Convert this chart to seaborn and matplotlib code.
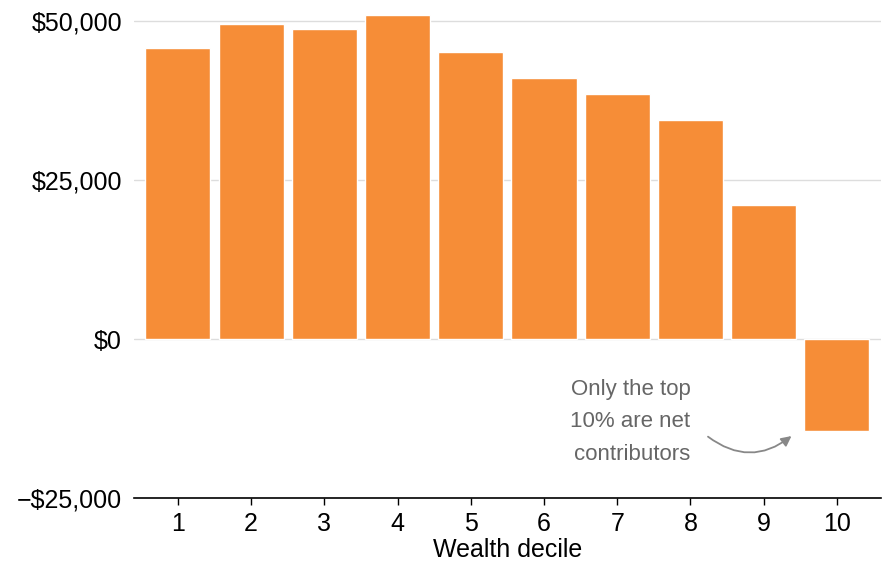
import pandas as pd
import matplotlib
matplotlib.use("Agg")
import matplotlib.pyplot as plt
import seaborn as sns

# values
deciles = ["1", "2", "3", "4", "5", "6", "7", "8", "9", "10"]
net_value = [45800, 49600, 48700, 51000, 45200, 41050, 38550, 34450, 21100, -14500]
y_ticks = [-25000, 0, 25000, 50000]
y_labels = ["\u2212$25,000", "$0", "$25,000", "$50,000"]

df = pd.DataFrame({"decile": deciles, "value": net_value})

sns.set_style("white")
plt.rcParams["font.family"] = ["Liberation Sans", "DejaVu Sans"]

fig = plt.figure(figsize=(8.87, 5.63), dpi=100)
ax = fig.add_axes([0.151, 0.115, 0.842, 0.870])

sns.barplot(data=df, x="decile", y="value", color="#F68D37", saturation=1,
            width=0.89, ax=ax, zorder=3)

ax.set_xlim(-0.6, 9.6)
ax.set_ylim(-25000, 52000)
ax.set_yticks(y_ticks)
ax.set_yticklabels(y_labels)
ax.grid(axis="y", color="#dddddd", linewidth=1, zorder=0)
ax.set_axisbelow(True)

for s in ["top", "right", "left"]:
    ax.spines[s].set_visible(False)
ax.spines["bottom"].set_color("black")
ax.spines["bottom"].set_linewidth(1.2)

ax.tick_params(axis="y", length=0, pad=8.5, labelsize=18, labelcolor="black")
ax.tick_params(axis="x", length=5, width=1, color="black", pad=5, labelsize=18,
               labelcolor="black", direction="out", bottom=True)

ax.set_xlabel("Wealth decile", fontsize=18, labelpad=1, color="black")
ax.set_ylabel("")

# annotation with curved arrow
ax.text(7.0, -13000, "Only the top\n10% are net\ncontributors", ha="right", va="center",
        multialignment="right", fontsize=16, color="#666666", linespacing=1.7)
ax.annotate("", xy=(8.41, -14950), xytext=(7.21, -15050),
            arrowprops=dict(arrowstyle="-|>,head_length=0.6,head_width=0.3",
                            color="#888888", lw=1.3,
                            connectionstyle="arc3,rad=0.4"))

fig.savefig("out.png", dpi=100)
